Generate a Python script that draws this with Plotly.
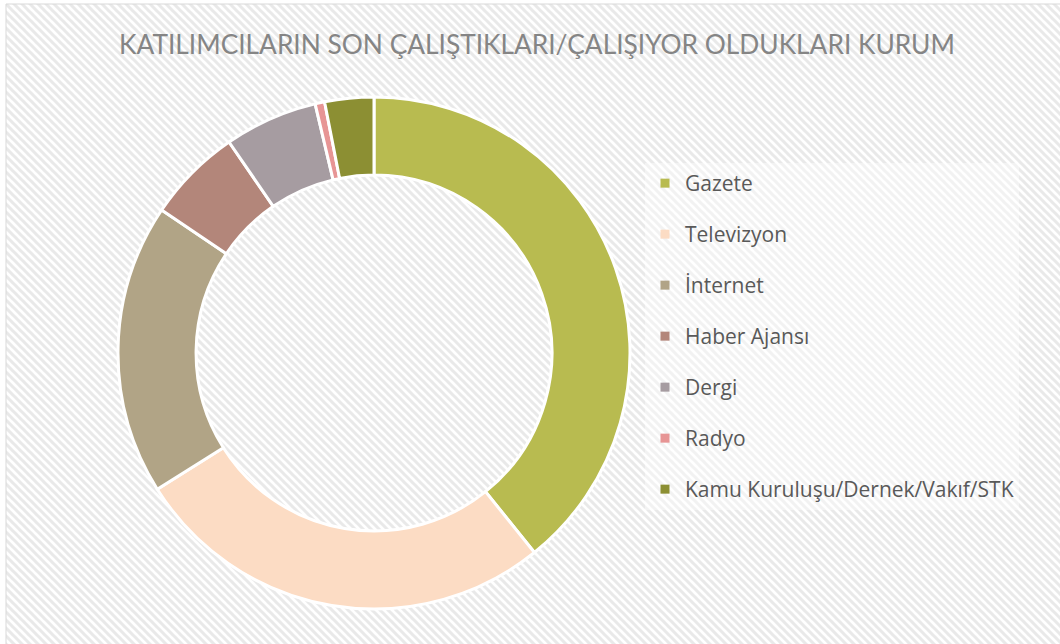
import base64
import plotly.graph_objects as go

# veriler (grafikten okunan yüzdeler)
labels = ["Gazete", "Televizyon", "İnternet", "Haber Ajansı", "Dergi", "Radyo",
          "Kamu Kuruluşu/Dernek/Vakıf/STK"]
values = [39.3, 26.9, 18.4, 6.0, 5.9, 0.6, 3.1]
colors = ["#b8bb50", "#fcdcc4", "#b1a486", "#b3867a", "#a69ca1", "#e79595", "#8c8f33"]
title_text = "KATILIMCILARIN SON ÇALIŞTIKLARI/ÇALIŞIYOR OLDUKLARI KURUM"

W, H = 1060, 644

# çapraz çizgili arka plan (svg desen)
svg = f'''<svg xmlns="http://www.w3.org/2000/svg" width="{W}" height="{H}" viewBox="0 0 {W} {H}">
<defs><pattern id="p" patternUnits="userSpaceOnUse" width="8" height="8">
<rect width="8" height="8" fill="white"/>
<path d="M-2,-2 L10,10 M-2,6 L2,10 M6,-2 L10,2" stroke="#e9e9e9" stroke-width="3"/>
</pattern></defs>
<rect width="{W}" height="{H}" fill="url(#p)"/>
</svg>'''
bg_src = "data:image/svg+xml;base64," + base64.b64encode(svg.encode()).decode()

fig = go.Figure()

fig.add_trace(go.Pie(
    labels=labels, values=values, sort=False, direction="clockwise", rotation=0,
    hole=0.695, textinfo="none", showlegend=False,
    marker=dict(colors=colors, line=dict(color="white", width=3)),
    domain=dict(x=[(374 - 256) / W, (374 + 256) / W], y=[1 - 609 / H, 1 - 97 / H]),
))

# lejant için boş izler (aralığı ayarlayabilmek için)
for i, (lab, col) in enumerate(zip(labels, colors)):
    fig.add_trace(go.Scatter(
        x=[None], y=[None], mode="markers", name=lab, legendgroup=f"g{i}",
        marker=dict(symbol="square", size=9, color=col),
    ))

fig.update_layout(
    width=W, height=H,
    margin=dict(l=0, r=0, t=0, b=0),
    paper_bgcolor="white", plot_bgcolor="rgba(0,0,0,0)",
    xaxis=dict(visible=False), yaxis=dict(visible=False),
    title=dict(text=title_text, x=537 / W, xanchor="center", y=1 - 45 / H, yanchor="middle",
               font=dict(family="Lato", size=26.3, color="#858585")),
    legend=dict(x=645 / W, xanchor="left", y=1 - 163 / H, yanchor="top",
                bgcolor="rgba(255,255,255,0.4)", tracegroupgap=20.7, traceorder="grouped",
                font=dict(family="Open Sans", size=21, color="#595959"),
                entrywidth=365),
    images=[dict(source=bg_src, xref="paper", yref="paper", x=6 / W, y=1 - 4 / H,
                 sizex=1, sizey=1, sizing="stretch", layer="below")],
    shapes=[dict(type="rect", xref="paper", yref="paper", x0=6 / W, x1=1.05,
                 y0=-0.05, y1=1 - 4 / H, line=dict(color="#d9d9d9", width=1))],
)

# body kenar boşluğunu kaldır
fig.write_html("out.html", config={"displayModeBar": False},
               post_script="document.body.style.margin='0';")
